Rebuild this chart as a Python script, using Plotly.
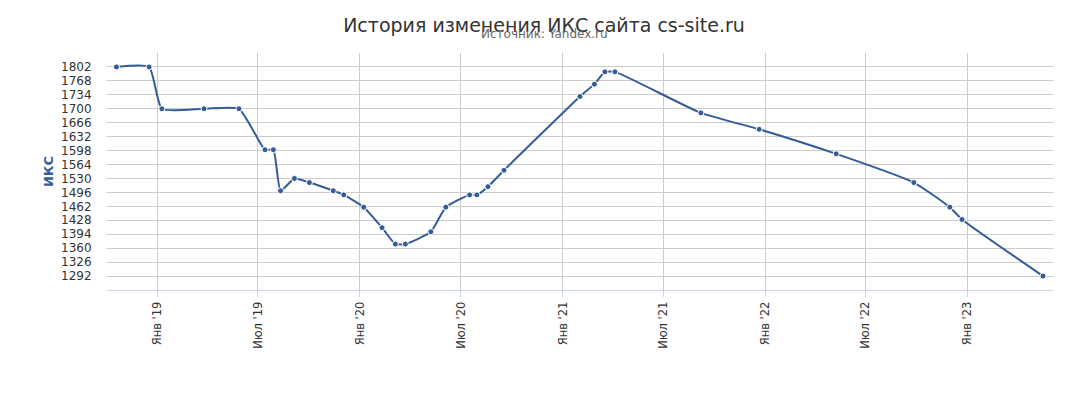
import plotly.graph_objects as go

# ИКС history
dates = [
    '2018-10-19', '2018-12-17', '2019-01-09', '2019-03-26', '2019-05-28',
    '2019-07-14', '2019-07-29', '2019-08-11', '2019-09-05', '2019-10-02',
    '2019-11-14', '2019-12-03', '2020-01-08', '2020-02-10', '2020-03-05',
    '2020-03-23', '2020-05-08', '2020-06-04', '2020-07-17', '2020-07-30',
    '2020-08-19', '2020-09-17', '2021-02-01', '2021-02-27', '2021-03-18',
    '2021-04-05', '2021-09-07', '2021-12-21', '2022-05-09', '2022-09-26',
    '2022-11-30', '2022-12-22', '2023-05-17',
]
iks = [
    1802, 1802, 1700, 1700, 1700,
    1600, 1600, 1500, 1530, 1520,
    1500, 1490, 1460, 1410, 1370,
    1370, 1400, 1460, 1490, 1490,
    1510, 1550, 1730, 1760, 1790,
    1790, 1690, 1650, 1590, 1520,
    1460, 1430, 1292,
]

y_ticks = [1292, 1326, 1360, 1394, 1428, 1462, 1496, 1530, 1564, 1598,
           1632, 1666, 1700, 1734, 1768, 1802]
x_tick_dates = ['2019-01-01', '2019-07-01', '2020-01-01', '2020-07-01',
                '2021-01-01', '2021-07-01', '2022-01-01', '2022-07-01',
                '2023-01-01']
x_tick_labels = ["Янв '19", "Июл '19", "Янв '20", "Июл '20", "Янв '21",
                 "Июл '21", "Янв '22", "Июл '22", "Янв '23"]

blue = '#345d97'
font = 'DejaVu Sans'

# the page body has an 8px margin, so the figure is sized/placed to allow for it
W, H = 1073, 398
ml, mt = 99, 45
mr = W - (1053 - 8)
mb = H - (290 - 8)

fig = go.Figure()
fig.add_trace(go.Scatter(
    x=dates,
    y=iks,
    mode='lines+markers',
    line=dict(color=blue, width=2, shape='spline', smoothing=0.5),
    marker=dict(size=6, color=blue, line=dict(color='white', width=1)),
    name='ИКС',
))

fig.update_layout(
    width=W,
    height=H,
    plot_bgcolor='white',
    paper_bgcolor='white',
    showlegend=False,
    margin=dict(l=ml, r=mr, t=mt, b=mb),
    font=dict(family=font, color='#333333'),
    title=dict(
        text='История изменения ИКС сайта cs-site.ru',
        x=(544 - 8) / W, xanchor='center',
        y=1 - 17 / H, yanchor='middle',
        font=dict(size=19, color='#333333', family=font),
    ),
    annotations=[dict(
        text='Источник: Yandex.ru',
        xref='paper', yref='paper',
        x=(544 - 107) / (1053 - 107), y=1 + 19 / (290 - 53),
        xanchor='center', yanchor='middle',
        showarrow=False,
        font=dict(size=12, color='#666666', family=font),
    )],
)

fig.update_xaxes(
    range=['2018-10-02', '2023-06-04'],
    tickvals=x_tick_dates,
    ticktext=x_tick_labels,
    tickangle=-90,
    tickfont=dict(size=11.5, color='#333333'),
    showgrid=True,
    gridcolor='#cccccc',
    gridwidth=1,
    showline=True,
    linecolor='#ccd6eb',
    linewidth=1,
    ticks='outside',
    ticklen=6,
    tickcolor='#ccd6eb',
    zeroline=False,
)

fig.update_yaxes(
    range=[1258, 1836],
    tickvals=y_ticks,
    tickfont=dict(size=12, color='#333333'),
    showgrid=True,
    gridcolor='#cccccc',
    gridwidth=1,
    zeroline=False,
    ticks='outside',
    ticklen=12,
    tickcolor='rgba(0,0,0,0)',
    title=dict(text='<b>ИКС</b>', font=dict(size=13, color=blue), standoff=4),
)

fig.write_html('out.html')
